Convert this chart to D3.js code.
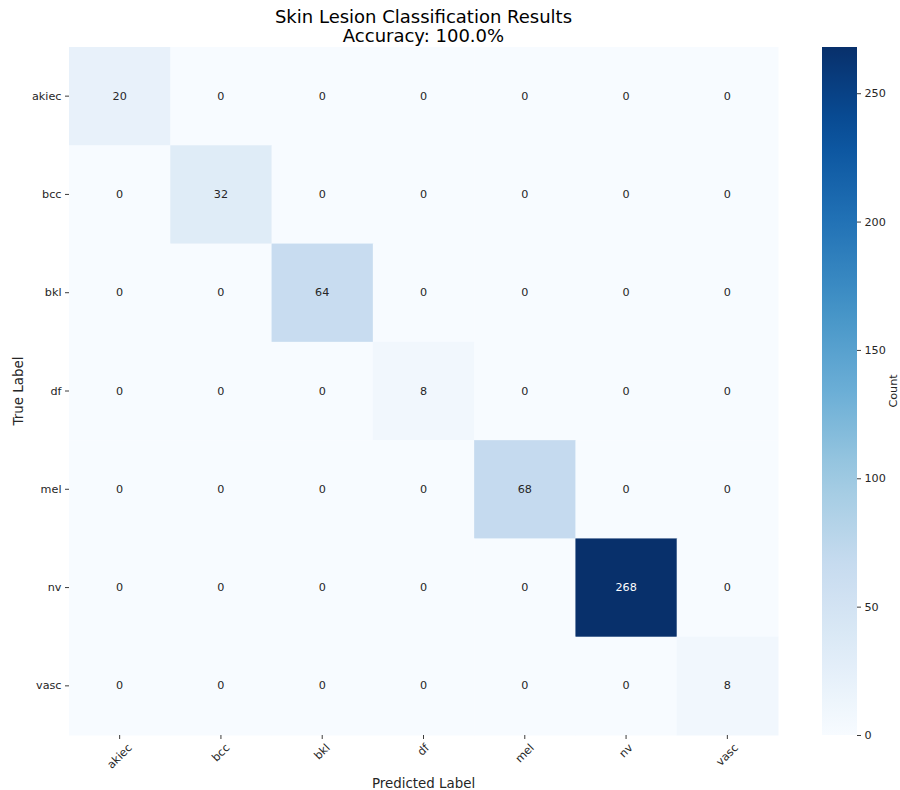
<!DOCTYPE html>
<html>
<head>
<meta charset="utf-8">
<script src="https://cdn.jsdelivr.net/npm/d3@7"></script>
<style>
  body { margin: 0; background: #ffffff; }
  svg { display: block; font-family: "DejaVu Sans", sans-serif; }
</style>
</head>
<body>
<svg id="chart" width="900" height="790"></svg>
<script>
// Class labels (rows = true, columns = predicted)
const classes = ["akiec", "bcc", "bkl", "df", "mel", "nv", "vasc"];

// Confusion matrix counts, one array per true class
const rowAkiec = [20, 0, 0, 0, 0, 0, 0];
const rowBcc   = [0, 32, 0, 0, 0, 0, 0];
const rowBkl   = [0, 0, 64, 0, 0, 0, 0];
const rowDf    = [0, 0, 0, 8, 0, 0, 0];
const rowMel   = [0, 0, 0, 0, 68, 0, 0];
const rowNv    = [0, 0, 0, 0, 0, 268, 0];
const rowVasc  = [0, 0, 0, 0, 0, 0, 8];
const matrix = [rowAkiec, rowBcc, rowBkl, rowDf, rowMel, rowNv, rowVasc];

const colorbarTicks = [0, 50, 100, 150, 200, 250];

const titleLines = ["Skin Lesion Classification Results", "Accuracy: 100.0%"];

// Layout
const plot = { left: 69, top: 47, right: 778, bottom: 735 };
const cbar = { left: 822, right: 857 };
const tickFont = 11.2;

const svg = d3.select("#chart");

const cells = [];
matrix.forEach((row, i) => row.forEach((v, j) => cells.push({ t: classes[i], p: classes[j], v })));

const vmax = d3.max(cells, d => d.v);

// Blues palette, piecewise linear between the nine ColorBrewer stops
const bluesStops = ["#f7fbff", "#deebf7", "#c6dbef", "#9ecae1", "#6baed6",
                    "#4292c6", "#2171b5", "#08519c", "#08306b"];
const blues = d3.piecewise(d3.interpolateRgb, bluesStops);
const color = d3.scaleSequential(blues).domain([0, vmax]);

const x = d3.scaleBand().domain(classes).range([plot.left, plot.right]);
const y = d3.scaleBand().domain(classes).range([plot.top, plot.bottom]);

// Heatmap cells
svg.append("g").selectAll("rect")
  .data(cells)
  .join("rect")
  .attr("x", d => x(d.p))
  .attr("y", d => y(d.t))
  .attr("width", x.bandwidth() + 0.5)
  .attr("height", y.bandwidth() + 0.5)
  .attr("fill", d => color(d.v));

// Cell annotations
svg.append("g").selectAll("text")
  .data(cells)
  .join("text")
  .attr("x", d => x(d.p) + x.bandwidth() / 2)
  .attr("y", d => y(d.t) + y.bandwidth() / 2)
  .attr("text-anchor", "middle")
  .attr("dominant-baseline", "central")
  .attr("font-size", tickFont)
  .attr("fill", d => d.v / vmax > 0.6 ? "#ffffff" : "#262626")
  .text(d => d.v);

// Y axis
const yAxis = svg.append("g")
  .attr("transform", `translate(${plot.left},0)`)
  .call(d3.axisLeft(y).tickSize(4).tickPadding(3.5));
yAxis.select(".domain").remove();
yAxis.selectAll("line").attr("stroke", "#262626").attr("stroke-width", 0.9);
yAxis.selectAll("text").attr("font-size", tickFont).attr("fill", "#262626")
  .attr("font-family", "DejaVu Sans, sans-serif");

// X axis with 45-degree labels centred under each tick
const xAxis = svg.append("g")
  .attr("transform", `translate(0,${plot.bottom})`)
  .call(d3.axisBottom(x).tickSize(4).tickFormat(""));
xAxis.select(".domain").remove();
xAxis.selectAll("line").attr("stroke", "#262626").attr("stroke-width", 0.9);

const xl = svg.append("g").selectAll("text")
  .data(classes)
  .join("text")
  .attr("font-size", tickFont)
  .attr("fill", "#262626")
  .attr("text-anchor", "middle")
  .attr("dominant-baseline", "central")
  .text(d => d);
xl.each(function (d) {
  const w = this.getComputedTextLength();
  const h = tickFont;
  const half = (w + h) * Math.SQRT1_2 / 2;
  const cx = x(d) + x.bandwidth() / 2;
  const cy = plot.bottom + 4 + 3 + half;
  d3.select(this).attr("transform", `translate(${cx},${cy}) rotate(-45)`);
});

// Axis titles
svg.append("text")
  .attr("x", (plot.left + plot.right) / 2)
  .attr("y", 788)
  .attr("text-anchor", "middle")
  .attr("font-size", 13.4)
  .attr("fill", "#262626")
  .text("Predicted Label");

svg.append("text")
  .attr("transform", `translate(23,${(plot.top + plot.bottom) / 2}) rotate(-90)`)
  .attr("text-anchor", "middle")
  .attr("font-size", 13.4)
  .attr("fill", "#262626")
  .text("True Label");

// Title
svg.append("g").selectAll("text")
  .data(titleLines)
  .join("text")
  .attr("x", (plot.left + plot.right) / 2)
  .attr("y", (d, i) => 23 + i * 19)
  .attr("text-anchor", "middle")
  .attr("font-size", 18)
  .attr("fill", "#000000")
  .text(d => d);

// Colorbar
const cy = d3.scaleLinear().domain([0, vmax]).range([plot.bottom, plot.top]);
const defs = svg.append("defs");
const grad = defs.append("linearGradient")
  .attr("id", "cbar-grad")
  .attr("x1", 0).attr("y1", 1).attr("x2", 0).attr("y2", 0);
d3.range(0, 1.0001, 0.05).forEach(t => {
  grad.append("stop").attr("offset", t).attr("stop-color", color(t * vmax));
});
svg.append("rect")
  .attr("x", cbar.left)
  .attr("y", plot.top)
  .attr("width", cbar.right - cbar.left)
  .attr("height", plot.bottom - plot.top)
  .attr("fill", "url(#cbar-grad)");

const cAxis = svg.append("g")
  .attr("transform", `translate(${cbar.right},0)`)
  .call(d3.axisRight(cy).tickValues(colorbarTicks).tickSize(4).tickPadding(3.5));
cAxis.select(".domain").remove();
cAxis.selectAll("line").attr("stroke", "#262626").attr("stroke-width", 0.9);
cAxis.selectAll("text").attr("font-size", tickFont).attr("fill", "#262626")
  .attr("font-family", "DejaVu Sans, sans-serif");

svg.append("text")
  .attr("transform", `translate(897,${(plot.top + plot.bottom) / 2}) rotate(-90)`)
  .attr("text-anchor", "middle")
  .attr("font-size", tickFont)
  .attr("fill", "#262626")
  .text("Count");
</script>
</body>
</html>
